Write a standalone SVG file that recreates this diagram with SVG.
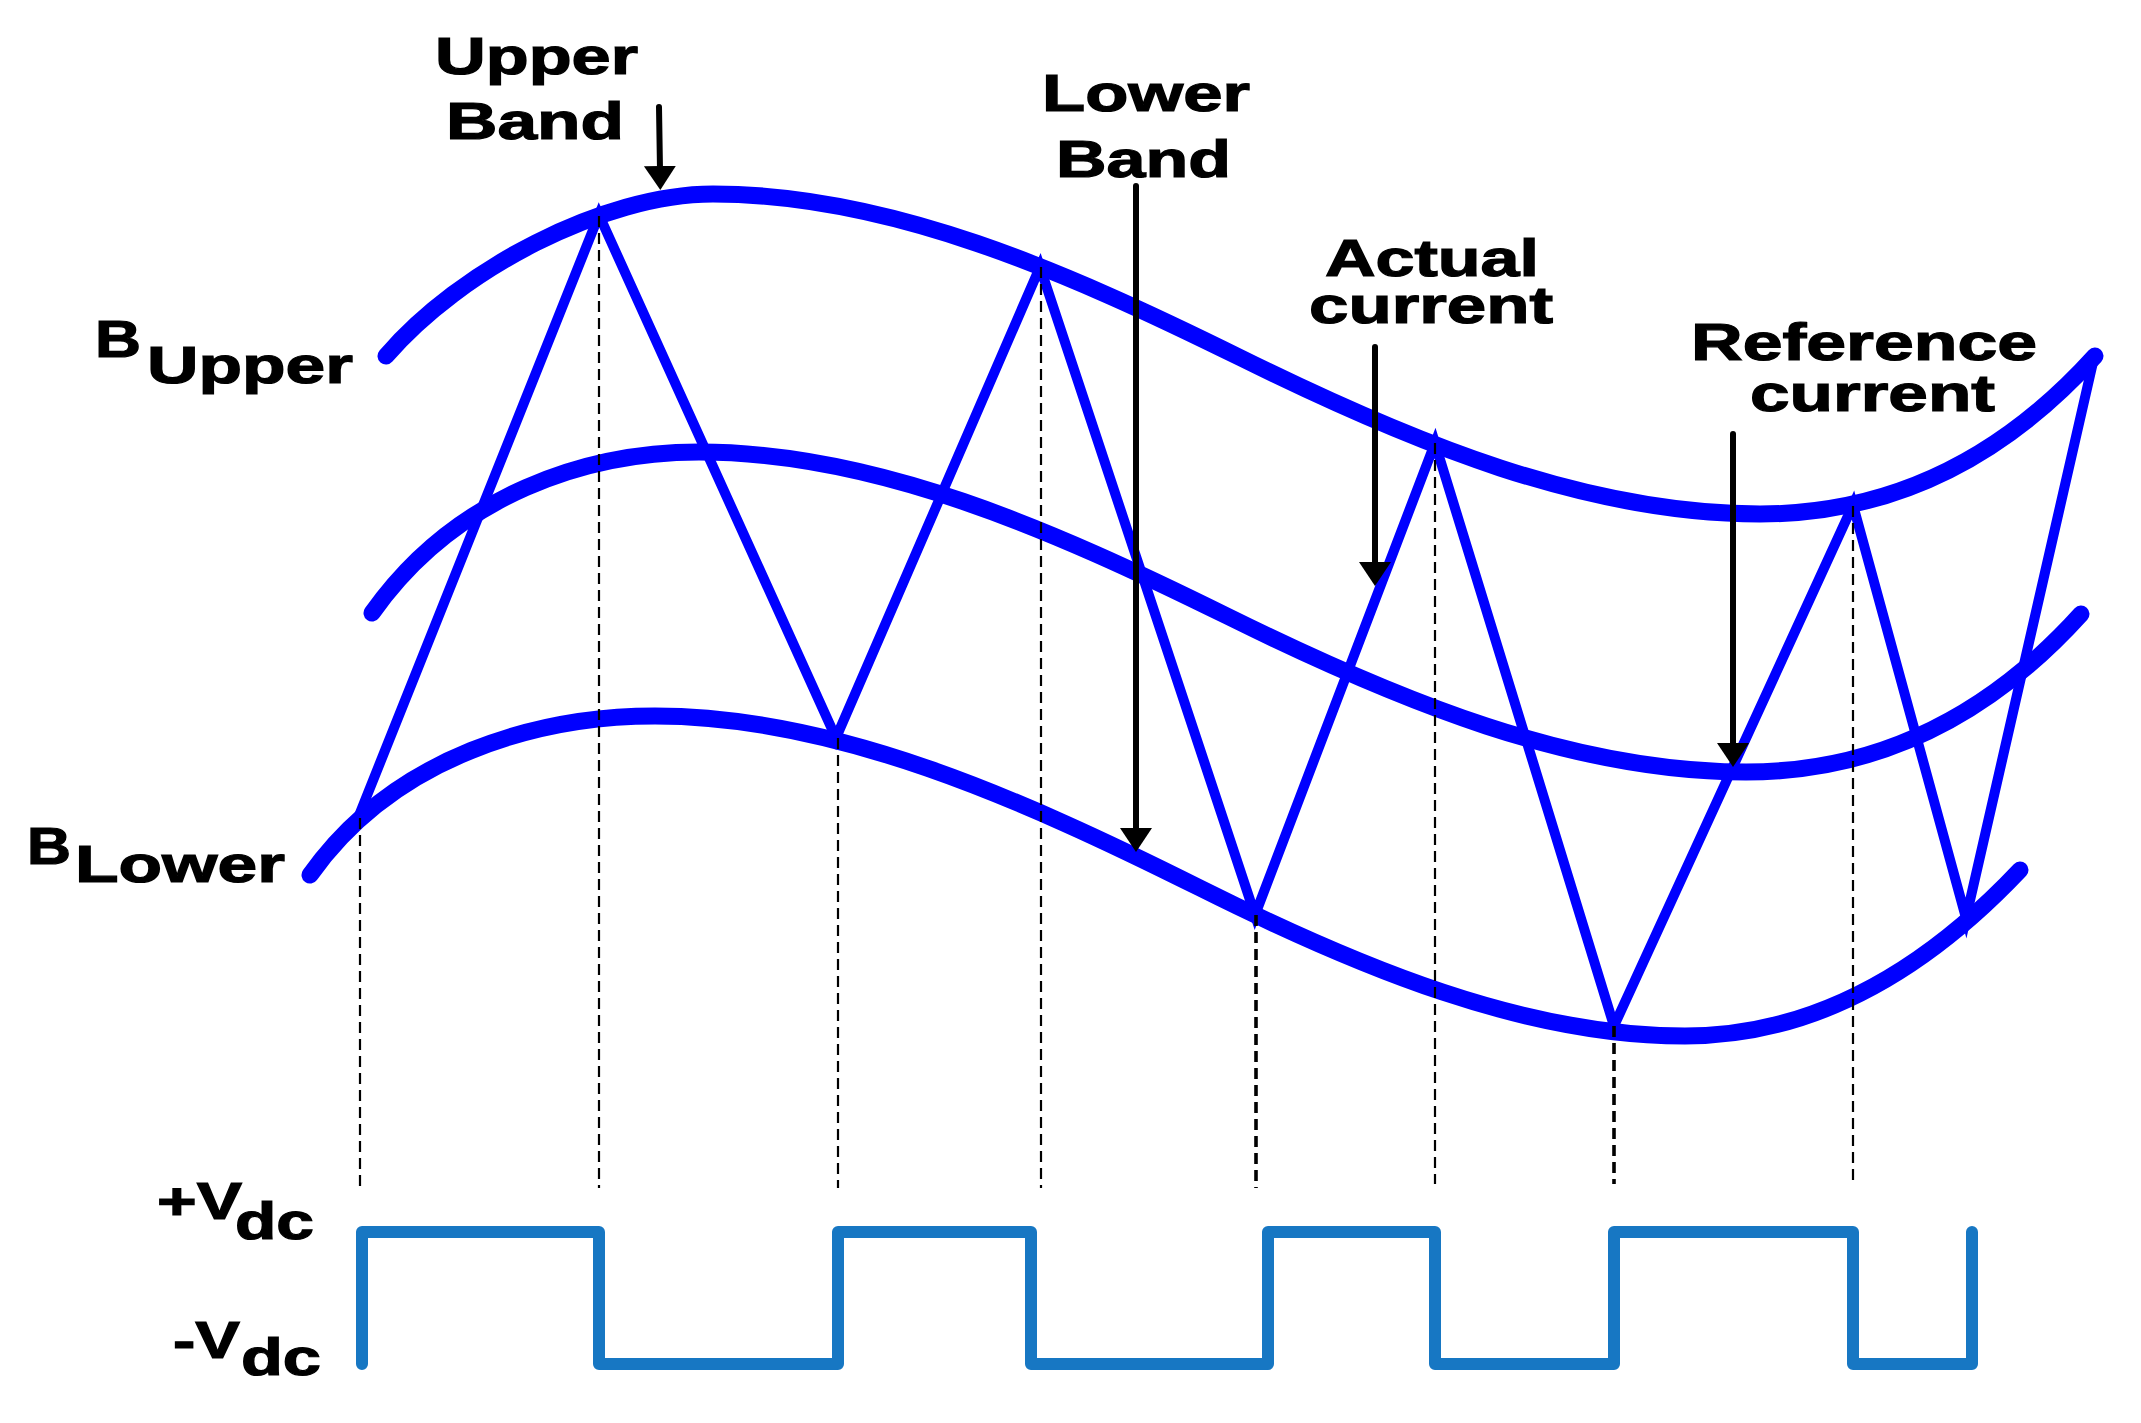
<svg xmlns="http://www.w3.org/2000/svg" width="2141" height="1423" viewBox="0 0 2141 1423">
<style>
.band{fill:none;stroke:#0000ff;stroke-width:17;stroke-linecap:round;stroke-linejoin:round}
.tri{fill:none;stroke:#0000ff;stroke-width:10;stroke-linejoin:miter;stroke-miterlimit:6}
.dash{stroke:#000;stroke-width:2.2;stroke-dasharray:11 6;fill:none}
.dashb{stroke:#000;stroke-width:3.6;stroke-dasharray:11 6;fill:none}
.sq{fill:none;stroke:#1777c3;stroke-width:12;stroke-linecap:round;stroke-linejoin:round}
.lbl{font-family:"Liberation Sans",Arial,sans-serif;font-weight:bold;font-size:52px;fill:#000;stroke:#000;stroke-width:1.2}
.arr{stroke:#000;stroke-width:6;stroke-linecap:round;fill:none;marker-end:url(#ah)}
</style>
<defs>
<marker id="ah" markerUnits="userSpaceOnUse" markerWidth="26" markerHeight="34" refX="4" refY="17" orient="auto">
<path d="M0,1 L24,17 L0,33 Z" fill="#000"/>
</marker>
</defs>
<rect width="2141" height="1423" fill="#fff"/>

<g id="upper-band">
<path class="band" d="M386,356 C460,270 603,194 713,194 C889,194 1065,271 1241,358 C1414,443.5 1587,514 1760,514 C1900,514 2010,450 2095,356"/>
</g>
<g id="reference-current">
<path class="band" d="M372,613 C457,493 589,452 699,452 C875,452 1051,529 1227,616 C1400,701.5 1573,772 1746,772 C1886,772 1996,708 2081,614"/>
</g>
<g id="lower-band">
<path class="band" d="M310,875 C395,755 540,716 655,716 C835,716 1020,798 1200,888 C1360,968 1525,1036 1685,1036 C1825,1036 1935,960 2020,870"/>
</g>
<g id="actual-current">
<path class="tri" d="M358,818 L599,215 L836,738 L1040,267 L1255,915 L1435,443 L1614,1026 L1853,505 L1966,918 L2094,358"/>
</g>

<g id="guides">
<line class="dash" x1="360" y1="818" x2="360" y2="1188"/>
<line class="dash" x1="599" y1="216" x2="599" y2="1188"/>
<line class="dash" x1="838" y1="738" x2="838" y2="1188"/>
<line class="dash" x1="1041" y1="267" x2="1041" y2="1188"/>
<line class="dashb" x1="1256" y1="915" x2="1256" y2="1188"/>
<line class="dash" x1="1435" y1="443" x2="1435" y2="1184"/>
<line class="dashb" x1="1614" y1="1026" x2="1614" y2="1184"/>
<line class="dash" x1="1853" y1="506" x2="1853" y2="1184"/>
</g>

<g id="switching-signal">
<path class="sq" d="M362,1364 V1232 H599 V1364 H838 V1232 H1031 V1364 H1268 V1232 H1435 V1364 H1614 V1232 H1853 V1364 H1972 V1232"/>
</g>

<g id="connectors">
<line class="arr" x1="659" y1="107" x2="660" y2="170"/>
<line class="arr" x1="1136" y1="186" x2="1136" y2="832"/>
<line class="arr" x1="1375" y1="347" x2="1375" y2="566"/>
<line class="arr" x1="1733" y1="434" x2="1733" y2="747"/>
</g>

<g id="labels">
<g id="label-upper-band">
<text class="lbl" x="435" y="74" textLength="203" lengthAdjust="spacingAndGlyphs">Upper</text>
<text class="lbl" x="446" y="139" textLength="178" lengthAdjust="spacingAndGlyphs">Band</text>
</g>
<g id="label-lower-band">
<text class="lbl" x="1042" y="111" textLength="208" lengthAdjust="spacingAndGlyphs">Lower</text>
<text class="lbl" x="1056" y="177" textLength="175" lengthAdjust="spacingAndGlyphs">Band</text>
</g>
<g id="label-actual-current">
<text class="lbl" x="1325" y="276" textLength="214" lengthAdjust="spacingAndGlyphs">Actual</text>
<text class="lbl" x="1309" y="323" textLength="244" lengthAdjust="spacingAndGlyphs">current</text>
</g>
<g id="label-reference-current">
<text class="lbl" x="1691" y="360" textLength="346" lengthAdjust="spacingAndGlyphs">Reference</text>
<text class="lbl" x="1750" y="411" textLength="245" lengthAdjust="spacingAndGlyphs">current</text>
</g>
<g id="label-b-upper">
<text class="lbl" x="95" y="357" textLength="46" lengthAdjust="spacingAndGlyphs">B</text>
<text class="lbl" x="147" y="383" textLength="206" lengthAdjust="spacingAndGlyphs">Upper</text>
</g>
<g id="label-b-lower">
<text class="lbl" x="27" y="864" textLength="44" lengthAdjust="spacingAndGlyphs">B</text>
<text class="lbl" x="75" y="882" textLength="210" lengthAdjust="spacingAndGlyphs">Lower</text>
</g>
<g id="label-plus-vdc">
<text class="lbl" x="157" y="1219" textLength="85" lengthAdjust="spacingAndGlyphs">+V</text>
<text class="lbl" x="235" y="1239" textLength="79" lengthAdjust="spacingAndGlyphs">dc</text>
</g>
<g id="label-minus-vdc">
<text class="lbl" x="173" y="1358" textLength="67" lengthAdjust="spacingAndGlyphs">-V</text>
<text class="lbl" x="241" y="1375" textLength="80" lengthAdjust="spacingAndGlyphs">dc</text>
</g>
</g>
</svg>
